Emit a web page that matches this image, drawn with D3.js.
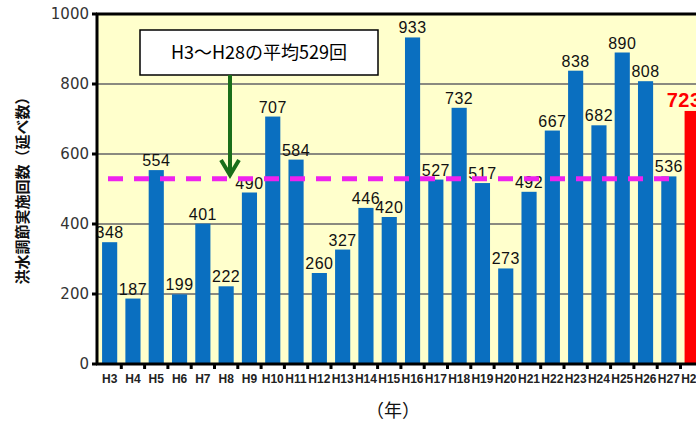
<!DOCTYPE html>
<html>
<head>
<meta charset="utf-8">
<script src="https://cdn.jsdelivr.net/npm/d3@7"></script>
<style>
  body { margin: 0; background: #fff; }
  svg { display: block; }
</style>
</head>
<body>
<div id="chart"></div>
<script>
const width = 696,
    height = 422;

// data
const years = ['H3', 'H4', 'H5', 'H6', 'H7', 'H8', 'H9', 'H10', 'H11', 'H12', 'H13', 'H14', 'H15',
    'H16', 'H17', 'H18', 'H19', 'H20', 'H21', 'H22', 'H23', 'H24', 'H25', 'H26', 'H27', 'H28'];
const counts = [348, 187, 554, 199, 401, 222, 490, 707, 584, 260, 327, 446, 420,
    933, 527, 732, 517, 273, 492, 667, 838, 682, 890, 808, 536, 723];
const yTicks = [0, 200, 400, 600, 800, 1000];
const average = 529;
const highlightYear = 'H28';
const noteText = 'H3～H28の平均529回';
const yTitle = '洪水調節実施回数（延べ数）';
const xTitle = '（年）';

const plotLeft = 97,
    plotTop = 14,
    plotBottom = 364;

const svg = d3.select('#chart').append('svg')
    .attr('width', width)
    .attr('height', height);

let x = d3.scaleBand()
    .domain(years)
    .range([98, 98 + years.length * 23.3])
    .paddingInner(0.35)
    .paddingOuter(0.175);

let y = d3.scaleLinear()
    .domain([0, 1000])
    .range([plotBottom, plotTop]);

// plot background
svg.append('rect')
    .attr('x', plotLeft)
    .attr('y', plotTop)
    .attr('width', width - plotLeft)
    .attr('height', plotBottom - plotTop)
    .attr('fill', '#ffffcc');

// gridlines
svg.append('g')
    .selectAll('line')
    .data(yTicks.filter(d => d > 0 && d < 1000))
    .enter().append('line')
    .attr('x1', plotLeft)
    .attr('x2', width)
    .attr('y1', d => y(d))
    .attr('y2', d => y(d))
    .attr('stroke', '#8a8a80')
    .attr('stroke-width', 2);

// bars
svg.append('g')
    .selectAll('rect')
    .data(counts)
    .enter().append('rect')
    .attr('x', (d, i) => x(years[i]))
    .attr('y', d => y(d))
    .attr('width', x.bandwidth())
    .attr('height', d => y(0) - y(d))
    .attr('fill', (d, i) => years[i] === highlightYear ? '#ff0000' : '#0a6fc0');

// value labels
svg.append('g')
    .selectAll('text')
    .data(counts)
    .enter().append('text')
    .attr('x', (d, i) => x(years[i]) + x.bandwidth() / 2 + (years[i] === highlightYear ? -8 : 0))
    .attr('y', d => y(d) - 4)
    .attr('text-anchor', 'middle')
    .style('font-family', 'Liberation Sans, Arial, sans-serif')
    .style('font-size', (d, i) => years[i] === highlightYear ? '20px' : '16px')
    .style('font-weight', (d, i) => years[i] === highlightYear ? 'bold' : 'normal')
    .style('letter-spacing', '0.5px')
    .attr('fill', (d, i) => years[i] === highlightYear ? '#ff0000' : '#111')
    .text(d => d);

// average line
svg.append('line')
    .attr('x1', 108)
    .attr('x2', 672)
    .attr('y1', y(average))
    .attr('y2', y(average))
    .attr('stroke', '#ee22ee')
    .attr('stroke-width', 5)
    .attr('stroke-dasharray', '15,11');

// frame: top border, left and bottom axes
svg.append('line')
    .attr('x1', plotLeft - 1).attr('x2', width)
    .attr('y1', plotTop).attr('y2', plotTop)
    .attr('stroke', '#000').attr('stroke-width', 3);

svg.append('line')
    .attr('x1', plotLeft).attr('x2', plotLeft)
    .attr('y1', plotTop).attr('y2', plotBottom)
    .attr('stroke', '#000').attr('stroke-width', 3);

svg.append('line')
    .attr('x1', plotLeft - 1).attr('x2', width)
    .attr('y1', plotBottom).attr('y2', plotBottom)
    .attr('stroke', '#000').attr('stroke-width', 3);

// y ticks and labels
let yAxis = svg.append('g')
    .selectAll('g')
    .data(yTicks)
    .enter().append('g')
    .attr('transform', d => 'translate(0,' + y(d) + ')');

yAxis.append('line')
    .attr('x1', plotLeft - 5)
    .attr('x2', plotLeft)
    .attr('stroke', '#000')
    .attr('stroke-width', 3);

yAxis.append('text')
    .attr('x', 89)
    .attr('dy', '0.36em')
    .attr('text-anchor', 'end')
    .style('font-family', 'DejaVu Sans, sans-serif')
    .style('font-size', '15px')
    .attr('fill', '#333')
    .text(d => d);

// x ticks at category boundaries
svg.append('g')
    .selectAll('line')
    .data(years.slice(1))
    .enter().append('line')
    .attr('x1', d => x(d) - x.step() * 0.175)
    .attr('x2', d => x(d) - x.step() * 0.175)
    .attr('y1', plotBottom)
    .attr('y2', plotBottom + 5)
    .attr('stroke', '#000')
    .attr('stroke-width', 3);

// x labels
svg.append('g')
    .selectAll('text')
    .data(years)
    .enter().append('text')
    .attr('x', d => x(d) + x.bandwidth() / 2)
    .attr('y', 383)
    .attr('text-anchor', 'middle')
    .style('font-family', 'Liberation Sans, Arial, sans-serif')
    .style('font-size', '12px')
    .style('font-weight', 'bold')
    .attr('fill', '#222')
    .text(d => d);

// axis titles
svg.append('text')
    .attr('transform', 'translate(28,187) rotate(-90)')
    .attr('text-anchor', 'middle')
    .style('font-family', 'Noto Sans CJK JP, sans-serif')
    .style('font-size', '15px')
    .style('font-weight', 'bold')
    .attr('fill', '#111')
    .text(yTitle);

svg.append('text')
    .attr('x', 393)
    .attr('y', 417)
    .attr('text-anchor', 'middle')
    .style('font-family', 'Noto Sans CJK JP, sans-serif')
    .style('font-size', '18px')
    .attr('fill', '#111')
    .text(xTitle);

// annotation box with arrow
svg.append('rect')
    .attr('x', 140)
    .attr('y', 30)
    .attr('width', 238)
    .attr('height', 45)
    .attr('fill', '#fff')
    .attr('stroke', '#000')
    .attr('stroke-width', 1.5);

svg.append('text')
    .attr('x', 259)
    .attr('y', 59)
    .attr('text-anchor', 'middle')
    .style('font-family', 'Noto Sans CJK JP, sans-serif')
    .style('font-size', '18px')
    .attr('fill', '#000')
    .text(noteText);

svg.append('line')
    .attr('x1', 230).attr('x2', 230)
    .attr('y1', 75).attr('y2', 175)
    .attr('stroke', '#1a6e1a')
    .attr('stroke-width', 4);

svg.append('path')
    .attr('d', 'M221,160 L230,175 L239,160')
    .attr('fill', 'none')
    .attr('stroke', '#1a6e1a')
    .attr('stroke-width', 4)
    .attr('stroke-linejoin', 'miter');
</script>
</body>
</html>
